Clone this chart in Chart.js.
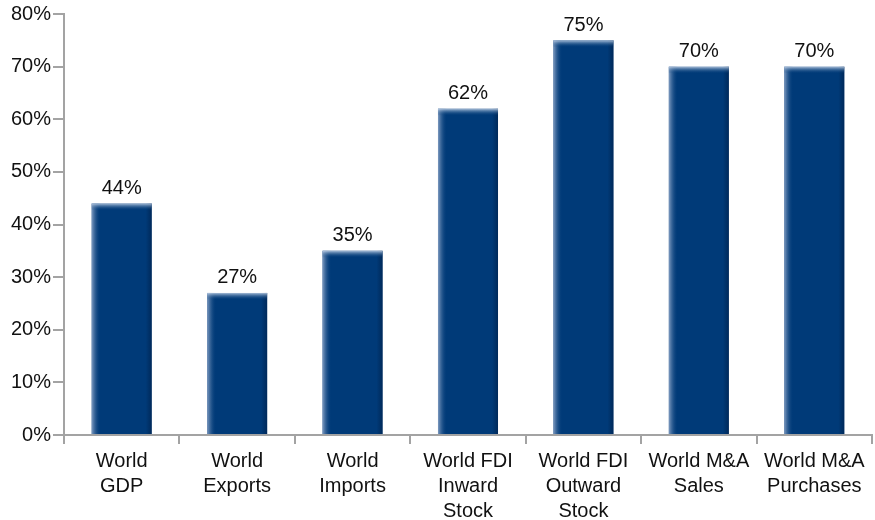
<!DOCTYPE html>
<html>
<head>
<meta charset="utf-8">
<script src="https://cdn.jsdelivr.net/npm/chart.js@4"></script>
<style>
  html, body { margin: 0; padding: 0; background: #fff; }
  #wrap { width: 875px; height: 520px; }
</style>
</head>
<body>
<div id="wrap"><canvas id="barChart" width="875" height="520"></canvas></div>
<script>
// chart data
const categories = [
  ["World", "GDP"],
  ["World", "Exports"],
  ["World", "Imports"],
  ["World FDI", "Inward", "Stock"],
  ["World FDI", "Outward", "Stock"],
  ["World M&A", "Sales"],
  ["World M&A", "Purchases"]
];
const shares = [44, 27, 35, 62, 75, 70, 70];
const yTicks = [0, 10, 20, 30, 40, 50, 60, 70, 80];

const axisGrey = '#a3a3a3';
const barBlue = '#003a78';
const fontFam = '"Liberation Sans", Arial, Helvetica, sans-serif';

// bevel shading (left / right / top edges) + value labels above the bars
const barExtras = {
  id: 'barExtras',
  afterDatasetsDraw(chart) {
    const ctx = chart.ctx;
    const meta = chart.getDatasetMeta(0);
    ctx.save();
    meta.data.forEach((bar, i) => {
      const w = bar.width;
      const left = bar.x - w / 2;
      const h = bar.base - bar.y;
      if (!isFinite(left) || !isFinite(h)) return;

      // left light edge
      let g = ctx.createLinearGradient(left, 0, left + 9, 0);
      g.addColorStop(0, 'rgba(140,165,200,0.9)');
      g.addColorStop(1, 'rgba(0,58,120,0)');
      ctx.fillStyle = g;
      ctx.fillRect(left, bar.y, 9, h);

      // right dark edge
      g = ctx.createLinearGradient(left + w - 6, 0, left + w, 0);
      g.addColorStop(0, 'rgba(0,30,70,0)');
      g.addColorStop(1, 'rgba(0,30,70,0.6)');
      ctx.fillStyle = g;
      ctx.fillRect(left + w - 6, bar.y, 6, h);

      // top highlight
      g = ctx.createLinearGradient(0, bar.y, 0, bar.y + 7);
      g.addColorStop(0, 'rgba(200,215,235,0.85)');
      g.addColorStop(1, 'rgba(0,58,120,0)');
      ctx.fillStyle = g;
      ctx.fillRect(left, bar.y, w, 7);

      ctx.fillStyle = '#111';
      ctx.font = '20px ' + fontFam;
      ctx.textAlign = 'center';
      ctx.textBaseline = 'bottom';
      ctx.fillText(shares[i] + '%', bar.x, bar.y - 5);
    });
    ctx.restore();
  }
};

const ctx = document.getElementById('barChart').getContext('2d');
new Chart(ctx, {
  type: 'bar',
  data: {
    labels: categories,
    datasets: [{
      data: shares,
      backgroundColor: barBlue,
      borderWidth: 0,
      categoryPercentage: 1,
      barPercentage: 0.52
    }]
  },
  options: {
    responsive: false,
    animation: false,
    layout: { padding: { top: 14, right: 3, left: 0, bottom: 0 } },
    plugins: {
      legend: { display: false },
      tooltip: { enabled: false }
    },
    scales: {
      x: {
        grid: {
          offset: true,
          drawOnChartArea: false,
          drawTicks: true,
          tickLength: 9,
          color: axisGrey,
          lineWidth: 2
        },
        border: { color: axisGrey, width: 2 },
        ticks: {
          color: '#111',
          font: { family: fontFam, size: 20, lineHeight: 1.25 },
          padding: 5,
          maxRotation: 0,
          autoSkip: false
        },
        afterFit(scale) { scale.height = 85; }
      },
      y: {
        min: 0,
        max: 80,
        afterBuildTicks(scale) {
          scale.ticks = yTicks.map(v => ({ value: v }));
        },
        grid: {
          drawOnChartArea: false,
          drawTicks: true,
          tickLength: 11,
          color: axisGrey,
          lineWidth: 2
        },
        border: { color: axisGrey, width: 2 },
        ticks: {
          color: '#111',
          font: { family: fontFam, size: 20 },
          padding: 2,
          callback: v => v + '%'
        },
        afterFit(scale) { scale.width = 64; }
      }
    }
  },
  plugins: [barExtras]
});
</script>
</body>
</html>
